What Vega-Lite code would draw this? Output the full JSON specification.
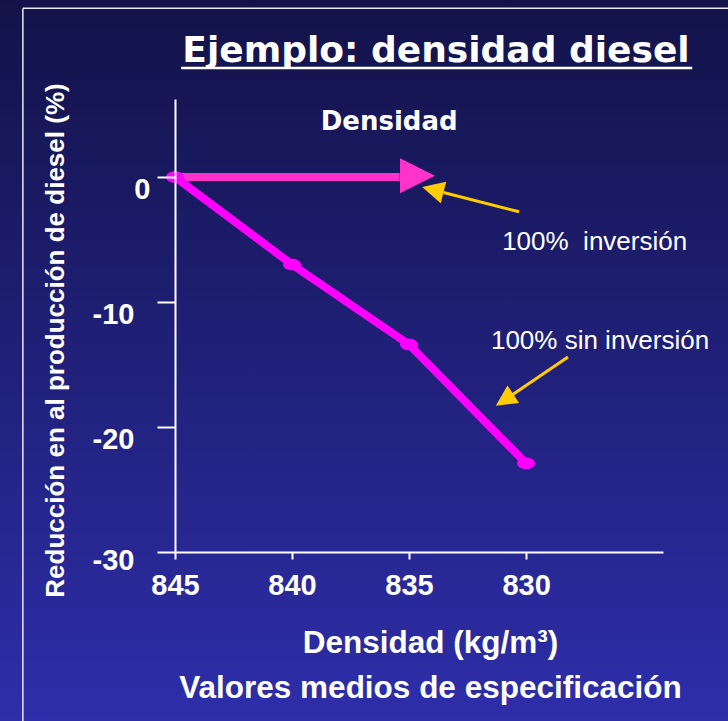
{
  "$schema": "https://vega.github.io/schema/vega-lite/v6.json",
  "width": 488,
  "height": 453,
  "autosize": "none",
  "padding": {"left": 175, "top": 99, "right": 65, "bottom": 169},
  "background": "#1f1f7a",
  "title": {
    "text": "Ejemplo: densidad diesel",
    "font": "DejaVu Sans",
    "fontWeight": "bold",
    "fontSize": 36,
    "color": "white",
    "anchor": "middle",
    "frame": "group",
    "baseline": "alphabetic",
    "offset": 39,
    "dx": 17,
    "dy": 147
  },
  "datasets": {
    "sin_inversion": [
      {"densidad": 845, "reduccion": 0},
      {"densidad": 840, "reduccion": -7},
      {"densidad": 835, "reduccion": -13.4},
      {"densidad": 830, "reduccion": -22.9}
    ],
    "inversion": [
      {"densidad": 845, "reduccion": 0},
      {"densidad": 835.4, "reduccion": 0}
    ]
  },
  "data": {"values": [{}]},
  "layer": [
    {
      "mark": {
        "type": "rect",
        "clip": false,
        "fill": {
          "gradient": "linear",
          "x1": 0, "y1": 0, "x2": 0, "y2": 1,
          "stops": [
            {"offset": 0, "color": "#121247"},
            {"offset": 1, "color": "#2e2eab"}
          ]
        }
      },
      "encoding": {
        "x": {"datum": 853, "type": "quantitative", "scale": {"domain": [824.15, 845], "reverse": true, "nice": false, "zero": false}},
        "x2": {"datum": 820},
        "y": {"datum": 15, "type": "quantitative", "scale": {"domain": [-30, 6.24], "nice": false, "zero": false}},
        "y2": {"datum": -44}
      }
    },
    {
      "mark": {"type": "rule", "color": "#e8e8f0", "strokeWidth": 1.5, "clip": false},
      "encoding": {
        "x": {"datum": 851.5, "type": "quantitative"},
        "y": {"datum": 13.5, "type": "quantitative"},
        "y2": {"datum": -44}
      }
    },
    {
      "mark": {"type": "rule", "color": "#e8e8f0", "strokeWidth": 1.5, "clip": false},
      "encoding": {
        "x": {"datum": 851.5, "type": "quantitative"},
        "x2": {"datum": 820},
        "y": {"datum": 13.5, "type": "quantitative"}
      }
    },
    {
      "mark": {"type": "rule", "color": "white", "strokeWidth": 2.5, "clip": false},
      "encoding": {
        "x": {"datum": 844.74, "type": "quantitative"},
        "x2": {"datum": 822.9},
        "y": {"datum": 8.72, "type": "quantitative"}
      }
    },
    {
      "data": {"name": "inversion"},
      "mark": {"type": "line", "color": "#ff33cc", "strokeWidth": 8, "clip": false},
      "encoding": {
        "x": {"field": "densidad", "type": "quantitative"},
        "y": {"field": "reduccion", "type": "quantitative"}
      }
    },
    {
      "mark": {"type": "point", "shape": "M-1,-1L1,0L-1,1Z", "size": 1225, "filled": true, "opacity": 1, "color": "#ff33cc", "clip": false},
      "encoding": {
        "x": {"datum": 834.64, "type": "quantitative"},
        "y": {"datum": 0.1, "type": "quantitative"}
      }
    },
    {
      "data": {"name": "sin_inversion"},
      "mark": {"type": "line", "color": "#ff00ff", "strokeWidth": 8, "clip": false},
      "encoding": {
        "x": {
          "field": "densidad",
          "type": "quantitative",
          "scale": {"domain": [824.15, 845], "reverse": true, "nice": false, "zero": false},
          "axis": {
            "zindex": 1,
            "values": [845, 840, 835, 830],
            "labelExpr": "'' + datum.value",
            "title": ["Densidad (kg/m³)", "Valores medios de especificación"],
            "grid": false,
            "domainColor": "white",
            "domainWidth": 2,
            "tickColor": "white",
            "tickWidth": 2,
            "tickSize": 7,
            "labelColor": "white",
            "labelFont": "Liberation Sans",
            "labelFontWeight": "bold",
            "labelFontSize": 29,
            "labelPadding": 12,
            "labelFlush": false,
            "labelOverlap": false,
            "titleColor": "white",
            "titleFont": "Liberation Sans",
            "titleFontWeight": "bold",
            "titleFontSize": 31.5,
            "titleLineHeight": 45,
            "titleX": 255,
            "titleY": 100,
            "titleAlign": "center",
            "titleBaseline": "alphabetic"
          }
        },
        "y": {
          "field": "reduccion",
          "type": "quantitative",
          "scale": {"domain": [-30, 6.24], "nice": false, "zero": false},
          "axis": {
            "zindex": 1,
            "values": [0, -10, -20, -30],
            "labelExpr": "'' + datum.value",
            "title": "Reducción en al producción de diesel (%)",
            "grid": false,
            "domainColor": "white",
            "domainWidth": 2,
            "tickColor": "white",
            "tickWidth": 2,
            "tickSize": 18,
            "labelColor": "white",
            "labelFont": "Liberation Sans",
            "labelFontWeight": "bold",
            "labelFontSize": 29,
            "labelPadding": {"condition": {"test": "datum.value == 0", "value": 7}, "value": 23},
            "labelBaseline": "top",
            "labelOffset": {"condition": {"test": "datum.value == -30", "value": -6}, "value": -2},
            "labelFlush": false,
            "labelOverlap": false,
            "titleColor": "white",
            "titleFont": "Liberation Sans",
            "titleFontWeight": "bold",
            "titleFontSize": 26,
            "titleX": -120,
            "titleY": 241,
            "titleAngle": -90,
            "titleAlign": "center",
            "titleBaseline": "middle"
          }
        }
      }
    },
    {
      "data": {"name": "sin_inversion"},
      "mark": {"type": "point", "shape": "M-1,0A1,0.65,0,1,0,1,0A1,0.65,0,1,0,-1,0Z", "size": 324, "filled": true, "opacity": 1, "color": "#ff00ff", "clip": false},
      "encoding": {
        "x": {"field": "densidad", "type": "quantitative"},
        "y": {"field": "reduccion", "type": "quantitative"}
      }
    },
    {
      "mark": {"type": "rule", "color": "#ffcc00", "strokeWidth": 3, "clip": false},
      "encoding": {
        "x": {"datum": 830.3, "type": "quantitative"},
        "y": {"datum": -2.78, "type": "quantitative"},
        "x2": {"datum": 833.53},
        "y2": {"datum": -1.24}
      }
    },
    {
      "mark": {"type": "point", "shape": "M-1,-1L1,0L-1,1Z", "size": 484, "angle": 194.3, "filled": true, "opacity": 1, "color": "#ffcc00", "clip": false},
      "encoding": {
        "x": {"datum": 833.985, "type": "quantitative"},
        "y": {"datum": -1.02, "type": "quantitative"}
      }
    },
    {
      "mark": {"type": "rule", "color": "#ffcc00", "strokeWidth": 3, "clip": false},
      "encoding": {
        "x": {"datum": 828.21, "type": "quantitative"},
        "y": {"datum": -14.4, "type": "quantitative"},
        "x2": {"datum": 830.6},
        "y2": {"datum": -17.44}
      }
    },
    {
      "mark": {"type": "point", "shape": "M-1,-1L1,0L-1,1Z", "size": 441, "angle": 146.3, "filled": true, "opacity": 1, "color": "#ffcc00", "clip": false},
      "encoding": {
        "x": {"datum": 830.92, "type": "quantitative"},
        "y": {"datum": -17.84, "type": "quantitative"}
      }
    },
    {
      "mark": {"type": "text", "text": "Densidad", "font": "DejaVu Sans", "fontWeight": "bold", "fontSize": 26, "color": "white", "align": "center", "baseline": "alphabetic", "clip": false},
      "encoding": {
        "x": {"datum": 835.85, "type": "quantitative"},
        "y": {"datum": 3.76, "type": "quantitative"}
      }
    },
    {
      "mark": {"type": "text", "text": "100%\u00a0 inversión", "font": "Liberation Sans", "fontSize": 26, "color": "white", "align": "center", "baseline": "alphabetic", "clip": false},
      "encoding": {
        "x": {"datum": 827.07, "type": "quantitative"},
        "y": {"datum": -5.84, "type": "quantitative"}
      }
    },
    {
      "mark": {"type": "text", "text": "100% sin inversión", "font": "Liberation Sans", "fontSize": 26, "color": "white", "align": "center", "baseline": "alphabetic", "clip": false},
      "encoding": {
        "x": {"datum": 826.84, "type": "quantitative"},
        "y": {"datum": -13.76, "type": "quantitative"}
      }
    }
  ],
  "config": {
    "view": {"stroke": null}
  }
}
